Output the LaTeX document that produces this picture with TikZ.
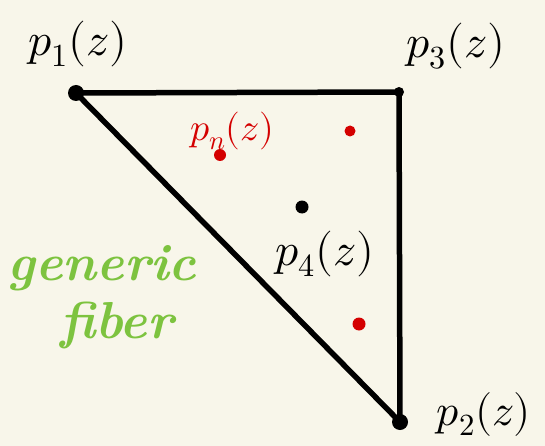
\documentclass[tikz,border=0pt]{standalone}
\usepackage{fontspec}
\usepackage{unicode-math}
\setmathfont{Latin Modern Math}
\definecolor{bg}{HTML}{F8F6EA}
\definecolor{hgreen}{HTML}{7DC33F}
\definecolor{hred}{HTML}{D40000}
\begin{document}
\begin{tikzpicture}[x=1pt,y=-1pt,
  edge/.style={line width=5.5pt,line join=round,line cap=round},
  bigdot/.style={circle,fill=black,inner sep=0pt,minimum size=16pt},
  smalldot/.style={circle,fill=black,inner sep=0pt,minimum size=10pt},
  reddot/.style={circle,fill=hred,inner sep=0pt,minimum size=12pt},
  lab/.style={font=\fontsize{46}{50}\selectfont,inner sep=0pt},
  glab/.style={font=\fontsize{52}{56}\selectfont\bfseries\itshape,text=hgreen,inner sep=0pt}]
\fill[bg] (0,0) rectangle (545,446);
\useasboundingbox (0,0) rectangle (545,446);
\coordinate (P1) at (76,93);
\coordinate (P3) at (399,92);
\coordinate (P2) at (400,422);
\draw[edge] (P1) -- (P3) -- (P2) -- cycle;
\node[bigdot] (d1) at (P1) {};
\node[smalldot] (d3) at (P3) {};
\node[bigdot] (d2) at (P2) {};
\node[smalldot,minimum size=13pt] (d4) at (302,207) {};
\node[reddot] (r1) at (220,155) {};
\node[reddot,minimum size=11pt] (r2) at (350,131) {};
\node[reddot,minimum size=13pt] (r3) at (359,324) {};
\node[lab] (l1) at (78,44) {$p_1(z)$};
\node[lab] (l3) at (456,46) {$p_3(z)$};
\node[lab,text=hred,font=\fontsize{38}{42}\selectfont] (ln) at (232,131) {$p_n(z)$};
\node[lab] (l4) at (325,254) {$p_4(z)$};
\node[lab,font=\fontsize{44}{48}\selectfont] (l2) at (484,414) {$p_2(z)$};
\node[glab] (g1) at (102,268) {generic};
\node[glab] (g2) at (117,325) {fiber};
\end{tikzpicture}
\end{document}
